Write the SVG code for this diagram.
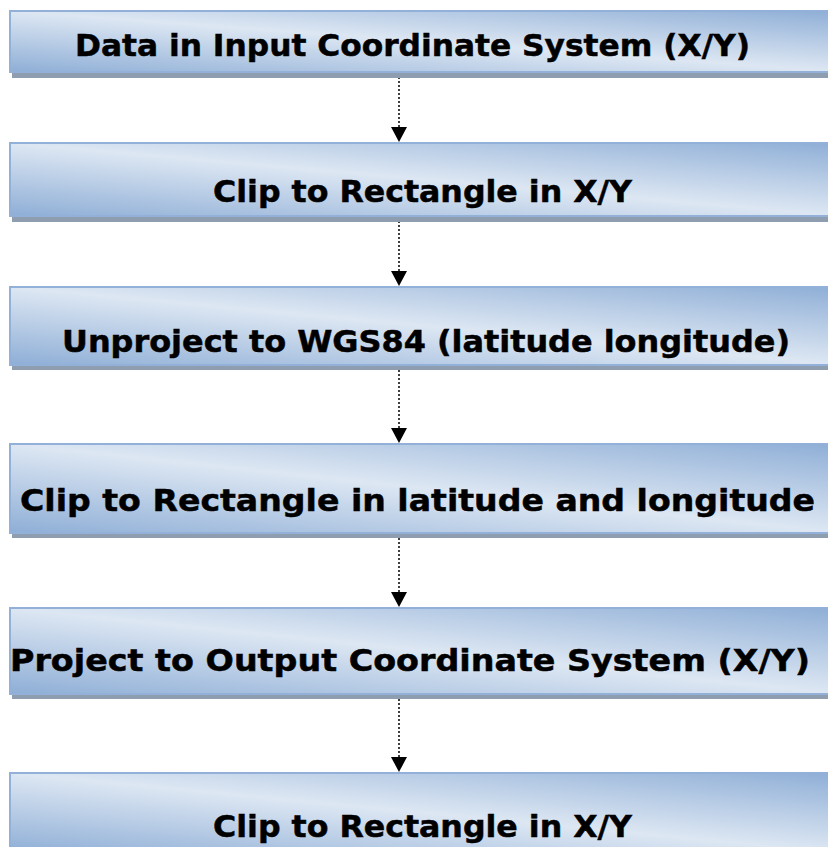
<svg xmlns="http://www.w3.org/2000/svg" width="828" height="847" viewBox="0 0 828 847">
<defs>
<linearGradient id="g" x1="0" y1="1" x2="1" y2="0">
<stop offset="0" stop-color="#8eaed6"/>
<stop offset="0.5" stop-color="#dde7f3"/>
<stop offset="1" stop-color="#8eaed6"/>
</linearGradient>
<style>
.sh{fill:#8f9db0}
.bx{fill:url(#g);stroke:#93b1d8;stroke-width:2}
.t{font-family:"DejaVu Sans",Verdana,sans-serif;font-weight:bold;fill:#000;stroke:#000;stroke-width:0.5;text-anchor:middle}
.c{stroke:#000;stroke-width:1.5;stroke-dasharray:2 2;fill:none}
</style>
</defs>
<g id="connectors">
<line class="c" x1="399" y1="73" x2="399" y2="128"/>
<path d="M391,127 L407,127 L399,142 Z"/>
<line class="c" x1="399" y1="217" x2="399" y2="272"/>
<path d="M391,271 L407,271 L399,286 Z"/>
<line class="c" x1="399" y1="370" x2="399" y2="429"/>
<path d="M391,428 L407,428 L399,443 Z"/>
<line class="c" x1="399" y1="538" x2="399" y2="593"/>
<path d="M391,592 L407,592 L399,607 Z"/>
<line class="c" x1="399" y1="699" x2="399" y2="758"/>
<path d="M391,757 L407,757 L399,772 Z"/>
</g>
<g id="n1">
<rect class="sh" x="12" y="15" width="830" height="63"/>
<rect class="bx" x="10" y="11" width="830" height="61"/>
<text class="t" x="412.5" y="56" font-size="31" textLength="675" lengthAdjust="spacingAndGlyphs">Data in Input Coordinate System (X/Y)</text>
</g>
<g id="n2">
<rect class="sh" x="12" y="147" width="830" height="75"/>
<rect class="bx" x="10" y="143" width="830" height="73"/>
<text class="t" x="422.5" y="202" font-size="31" textLength="419" lengthAdjust="spacingAndGlyphs">Clip to Rectangle in X/Y</text>
</g>
<g id="n3">
<rect class="sh" x="12" y="291" width="830" height="79"/>
<rect class="bx" x="10" y="287" width="830" height="78"/>
<text class="t" x="426" y="352" font-size="31" textLength="728" lengthAdjust="spacingAndGlyphs">Unproject to WGS84 (latitude longitude)</text>
</g>
<g id="n4">
<rect class="sh" x="12" y="448" width="830" height="90"/>
<rect class="bx" x="10" y="444" width="830" height="89"/>
<text class="t" x="417.5" y="511" font-size="31" textLength="795" lengthAdjust="spacingAndGlyphs">Clip to Rectangle in latitude and longitude</text>
</g>
<g id="n5">
<rect class="sh" x="12" y="612" width="830" height="87"/>
<rect class="bx" x="10" y="608" width="830" height="86"/>
<text class="t" x="410" y="671" font-size="31" textLength="800" lengthAdjust="spacingAndGlyphs">Project to Output Coordinate System (X/Y)</text>
</g>
<g id="n6">
<rect class="sh" x="12" y="777" width="830" height="80"/>
<rect class="bx" x="10" y="773" width="830" height="80"/>
<text class="t" x="422.5" y="837" font-size="31" textLength="419" lengthAdjust="spacingAndGlyphs">Clip to Rectangle in X/Y</text>
</g>
</svg>
